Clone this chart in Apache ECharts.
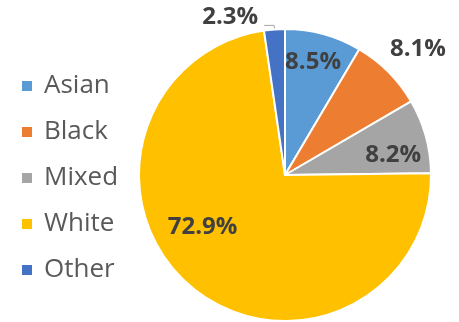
<!DOCTYPE html>
<html><head><meta charset="utf-8">
<script src="https://cdn.jsdelivr.net/npm/echarts@6/dist/echarts.min.js"></script>
<style>html,body{margin:0;padding:0;background:#fff;}#c{width:459px;height:322px;}</style>
</head><body><div id="c"></div>
<script>
const categories = ['Asian', 'Black', 'Mixed', 'White', 'Other'];
const values = [8.5, 8.1, 8.2, 72.9, 2.3];
const colors = ['#5B9BD5', '#ED7D31', '#A5A5A5', '#FFC000', '#4472C4'];
const labelOffsets = [[8, -40], [79, -72], [35, 0], [-33, -6], [0, -8]];

const chart = echarts.init(document.getElementById('c'), null, {renderer: 'canvas'});
const font = '"Open Sans", "DejaVu Sans", sans-serif';
chart.setOption({
  animation: false,
  backgroundColor: '#fff',
  legend: {
    orient: 'vertical', left: 15, top: 68,
    itemWidth: 12, itemHeight: 12, itemGap: 20, icon: 'rect',
    textStyle: {fontFamily: font, fontSize: 26, color: '#595959', lineHeight: 25, padding: [0, 0, 0, 6]},
    data: categories
  },
  series: [{
    type: 'pie',
    center: [285, 175], radius: 146,
    startAngle: 90, clockwise: true,
    itemStyle: {borderColor: '#fff', borderWidth: 2},
    label: {position: 'inside', formatter: p => p.value.toFixed(1) + '%', fontFamily: font, fontSize: 24, fontWeight: 'bold', color: '#404040'},
    labelLayout: p => ({dx: labelOffsets[p.dataIndex][0], dy: labelOffsets[p.dataIndex][1]}),
    emphasis: {disabled: true},
    data: categories.map((c, i) => {
      const d = {name: c, value: values[i], itemStyle: {color: colors[i]}};
      if (c === 'Other') {
        d.label = {position: 'outside', distanceToLabelLine: 6};
        d.labelLine = {show: true, length: 4, length2: 10, lineStyle: {color: '#A6A6A6', width: 1}};
      }
      return d;
    })
  }]
});
</script></body></html>
